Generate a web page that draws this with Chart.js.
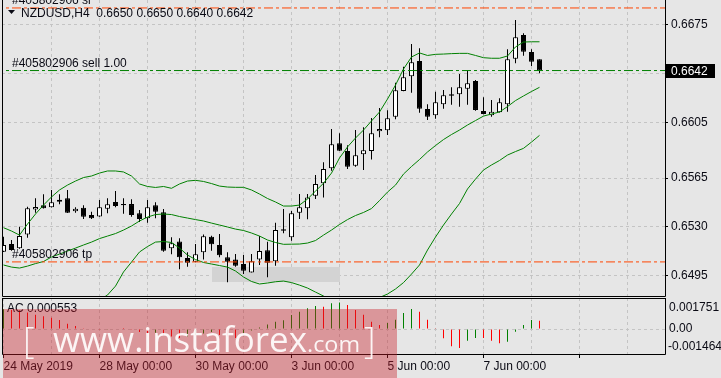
<!DOCTYPE html>
<html>
<head>
<meta charset="utf-8">
<script src="https://cdn.jsdelivr.net/npm/chart.js@4.4.0/dist/chart.umd.min.js"></script>
<style>
  html, body { margin: 0; padding: 0; background: #e6e6e6; }
  #wrap { position: relative; width: 721px; height: 378px; overflow: hidden; background: #e6e6e6; }
  canvas { position: absolute; left: 0; }
  #main { top: 0; }
  #sub { top: 296px; }
</style>
</head>
<body>
<div id="wrap">
  <canvas id="main" width="721" height="298"></canvas>
  <canvas id="sub" width="721" height="82"></canvas>
</div>
<script>
// NZDUSD H4 candles, 24 May - 7 Jun 2019
const opens = [0.65123,0.65178,0.65147,0.65247,0.65426,0.65455,0.65441,0.65495,0.65505,0.65412,
  0.65438,0.65386,0.65376,0.65431,0.65479,0.65464,0.65464,0.65398,0.65362,0.65455,
  0.65405,0.65147,0.65197,0.65078,0.65051,0.65119,0.65230,0.65171,0.65083,0.65068,
  0.65035,0.64975,0.65068,0.65133,0.65054,0.65283,0.65226,0.65402,0.65434,0.65524,
  0.65613,0.65720,0.65899,0.65844,0.65739,0.65820,0.65844,0.65985,0.65992,0.66090,
  0.66274,0.66379,0.66489,0.66145,0.66100,0.66178,0.66250,0.66250,0.66290,0.66345,
  0.66131,0.66100,0.66121,0.66178,0.66505,0.66675,0.66553,0.66500];
const highs = [0.65231,0.65207,0.65302,0.65445,0.65505,0.65534,0.65565,0.65534,0.65565,0.65441,
  0.65455,0.65409,0.65493,0.65505,0.65557,0.65505,0.65498,0.65421,0.65493,0.65477,
  0.65429,0.65226,0.65219,0.65119,0.65178,0.65247,0.65237,0.65250,0.65119,0.65106,
  0.65099,0.65106,0.65235,0.65194,0.65331,0.65429,0.65414,0.65536,0.65536,0.65672,
  0.65763,0.66002,0.65971,0.65885,0.65994,0.66014,0.66080,0.66152,0.66135,0.66333,
  0.66448,0.66610,0.66579,0.66178,0.66269,0.66281,0.66300,0.66395,0.66419,0.66352,
  0.66229,0.66209,0.66221,0.66572,0.66782,0.66687,0.66572,0.66500];
const lows = [0.65121,0.65130,0.65145,0.65223,0.65402,0.65432,0.65439,0.65462,0.65400,0.65402,
  0.65357,0.65357,0.65374,0.65398,0.65441,0.65395,0.65374,0.65336,0.65331,0.65362,
  0.65123,0.65104,0.64997,0.65015,0.65047,0.65068,0.65130,0.65083,0.64904,0.65015,
  0.64963,0.64975,0.65028,0.64940,0.65023,0.65255,0.65202,0.65357,0.65355,0.65500,
  0.65512,0.65703,0.65844,0.65715,0.65731,0.65708,0.65784,0.65942,0.65959,0.66071,
  0.66272,0.66261,0.66118,0.66066,0.66075,0.66147,0.66175,0.66161,0.66175,0.66133,
  0.66107,0.66089,0.66119,0.66125,0.66472,0.66526,0.66453,0.66400];
const closes = [0.65171,0.65135,0.65235,0.65434,0.65443,0.65434,0.65477,0.65481,0.65402,0.65431,
  0.65374,0.65362,0.65441,0.65462,0.65450,0.65455,0.65386,0.65357,0.65441,0.65409,
  0.65130,0.65183,0.65083,0.65044,0.65104,0.65233,0.65176,0.65097,0.65051,0.65023,
  0.64987,0.65054,0.65128,0.65044,0.65278,0.65273,0.65398,0.65441,0.65512,0.65608,
  0.65715,0.65892,0.65846,0.65731,0.65813,0.65849,0.65971,0.66001,0.66078,0.66279,
  0.66372,0.66479,0.66147,0.66090,0.66193,0.66243,0.66240,0.66300,0.66329,0.66138,
  0.66109,0.66125,0.66193,0.66500,0.66658,0.66555,0.66483,0.66420];

// Bollinger bands
const bbUpper = [0.65295,0.65271,0.65242,0.65321,0.65393,0.65457,0.65515,0.65565,0.65600,0.65629,
  0.65654,0.65665,0.65686,0.65701,0.65701,0.65694,0.65665,0.65608,0.65590,0.65583,
  0.65590,0.65577,0.65608,0.65629,0.65634,0.65626,0.65611,0.65593,0.65586,0.65584,
  0.65584,0.65565,0.65536,0.65504,0.65479,0.65450,0.65450,0.65457,0.65500,0.65557,
  0.65613,0.65686,0.65794,0.65873,0.65937,0.65994,0.66059,0.66123,0.66216,0.66316,
  0.66431,0.66517,0.66546,0.66528,0.66536,0.66538,0.66541,0.66543,0.66543,0.66528,
  0.66512,0.66508,0.66508,0.66524,0.66589,0.66624,0.66626,0.66626];
const bbMiddle = [0.65028,0.65013,0.65006,0.65020,0.65038,0.65053,0.65085,0.65106,0.65128,0.65149,
  0.65171,0.65192,0.65217,0.65235,0.65253,0.65278,0.65307,0.65343,0.65371,0.65389,
  0.65393,0.65389,0.65375,0.65364,0.65353,0.65343,0.65328,0.65314,0.65300,0.65285,
  0.65275,0.65257,0.65235,0.65207,0.65189,0.65176,0.65177,0.65178,0.65185,0.65203,
  0.65242,0.65278,0.65318,0.65353,0.65382,0.65404,0.65432,0.65489,0.65550,0.65600,
  0.65679,0.65733,0.65783,0.65837,0.65883,0.65926,0.65962,0.65994,0.66030,0.66062,
  0.66094,0.66109,0.66123,0.66162,0.66205,0.66238,0.66270,0.66300];
const bbLower = [0.64756,0.64748,0.64756,0.64720,0.64691,0.64662,0.64655,0.64655,0.64662,0.64677,
  0.64698,0.64734,0.64777,0.64813,0.64877,0.64978,0.65049,0.65121,0.65160,0.65192,
  0.65196,0.65189,0.65149,0.65099,0.65067,0.65046,0.65035,0.65024,0.65013,0.64985,
  0.64942,0.64910,0.64892,0.64899,0.64908,0.64913,0.64902,0.64884,0.64863,0.64834,
  0.64806,0.64777,0.64748,0.64734,0.64741,0.64756,0.64777,0.64795,0.64820,0.64856,
  0.64902,0.64963,0.65028,0.65135,0.65228,0.65314,0.65393,0.65468,0.65572,0.65643,
  0.65708,0.65744,0.65776,0.65815,0.65840,0.65863,0.65908,0.65956];

// Accelerator Oscillator
const acValues = [0.00130,0.00126,0.00124,0.00110,0.00095,0.00085,0.00075,0.00060,0.00035,0.00020,
  0.00005,-0.00003,-0.00005,-0.00002,0.00003,0.00001,-0.00005,-0.00020,-0.00030,-0.00025,
  -0.00040,-0.00050,-0.00060,-0.00050,-0.00040,-0.00030,-0.00020,-0.00040,-0.00050,-0.00060,
  -0.00030,-0.00010,0.00010,0.00030,0.000483,0.00058,0.000925,0.001144,0.001368,0.00152,
  0.001474,0.001699,0.001751,0.001586,0.001256,0.000945,0.000483,0.000264,0.000397,0.000615,
  0.001058,0.001322,0.001144,0.000615,0.00002,-0.000615,-0.001144,-0.001256,-0.000773,-0.000595,
  -0.00060,-0.000773,-0.000945,-0.00084,-0.000178,0.000264,0.000595,0.000553];
const acScaleLabels = ['0.001751', '0.00', '-0.001464'];

const priceTicks = [0.6495, 0.6530, 0.6565, 0.6605, 0.6640, 0.6675];
const priceMin = 0.64806, priceMax = 0.66925;
const acMin = -0.00165, acMax = 0.00205;
const dateLabels = ['24 May 2019', '28 May 00:00', '30 May 00:00', '3 Jun 00:00', '5 Jun 00:00', '7 Jun 00:00'];
const barsPerDay = 6;

const symbol = 'NZDUSD,H4';
const ticket = '#405802906';
const stopLoss = 0.66868, entryPrice = 0.6642, takeProfit = 0.6505;
const zone = { fromBar: 26, toBar: 42, low: 0.64908, high: 0.65015 };

// layout
const BAR_PX = 8, PLOT_W = 663, FIRST_BAR_PX = 1.5;
const xMin = -FIRST_BAR_PX / BAR_PX, xMax = xMin + PLOT_W / BAR_PX;

const FONT = '12px "Liberation Sans", Arial, sans-serif';
const TEXT = '#0a0a14';
const GRID = '#c4c4c4';
Chart.defaults.font.family = '"Liberation Sans", Arial, sans-serif';
Chart.defaults.font.size = 12;
Chart.defaults.color = TEXT;

const idx = opens.map((_, i) => i);
const dayTicks = [];
for (let k = barsPerDay; k <= xMax; k += barsPerDay) dayTicks.push({ value: k });

function flatLine(level, color) {
  return {
    type: 'line', data: [{ x: xMin - 1, y: level }, { x: xMax + 1, y: level }],
    borderColor: color, borderWidth: 1, borderDash: [9, 3, 3, 3], pointRadius: 0, order: 0
  };
}
function band(values) {
  return {
    type: 'line', data: idx.map(i => ({ x: i, y: values[i] })),
    borderColor: '#008000', borderWidth: 1, pointRadius: 0, tension: 0, order: 0
  };
}
function frame(ctx, a) {
  ctx.save();
  ctx.strokeStyle = '#000';
  ctx.lineWidth = 1;
  ctx.beginPath();
  ctx.moveTo(a.left + 0.5, a.top);
  ctx.lineTo(a.left + 0.5, a.bottom + 0.5);
  ctx.lineTo(a.right + 0.5, a.bottom + 0.5);
  ctx.lineTo(a.right + 0.5, a.top);
  ctx.stroke();
  ctx.restore();
}

const mainDecor = {
  id: 'mainDecor',
  beforeDatasetsDraw(chart) {
    const { ctx, scales: { x, y } } = chart;
    const x0 = x.getPixelForValue(zone.fromBar), x1 = x.getPixelForValue(zone.toBar);
    const y0 = y.getPixelForValue(zone.high), y1 = y.getPixelForValue(zone.low);
    ctx.save();
    ctx.fillStyle = '#d3d3d3';
    ctx.fillRect(Math.round(x0), Math.round(y0), Math.round(x1 - x0), Math.round(y1 - y0));
    ctx.restore();
  },
  afterDraw(chart) {
    const { ctx, chartArea: a, scales: { y } } = chart;
    frame(ctx, a);
    ctx.save();
    ctx.font = FONT;
    ctx.fillStyle = TEXT;
    ctx.textBaseline = 'alphabetic';
    ctx.fillText(ticket + ' sl', 12, y.getPixelForValue(stopLoss) - 4);
    ctx.fillText(ticket + ' sell 1.00', 12, y.getPixelForValue(entryPrice) - 4);
    ctx.fillText(ticket + ' tp', 12, y.getPixelForValue(takeProfit) - 4);
    const last = opens.length - 1;
    const ohlc = [opens[last], highs[last], lows[last], closes[last]].map(v => v.toFixed(4)).join(' ');
    ctx.fillText(symbol + '  ' + ohlc, 21, 17);
    ctx.beginPath();
    ctx.moveTo(8, 10); ctx.lineTo(15, 10); ctx.lineTo(11.5, 14); ctx.closePath();
    ctx.fill();
    // current price box
    const py = Math.round(y.getPixelForValue(closes[last]));
    ctx.fillStyle = '#000';
    ctx.fillRect(a.right, py - 7, 50, 14);
    ctx.fillStyle = '#fff';
    ctx.textBaseline = 'middle';
    ctx.fillText(closes[last].toFixed(4), a.right + 6, py + 0.5);
    ctx.restore();
  }
};

new Chart(document.getElementById('main'), {
  type: 'bar',
  data: {
    datasets: [
      flatLine(stopLoss, '#ff4500'),
      flatLine(entryPrice, '#008000'),
      flatLine(takeProfit, '#ff4500'),
      band(bbUpper), band(bbMiddle), band(bbLower),
      {
        data: idx.map(i => ({ x: i, y: [opens[i], closes[i]] })),
        backgroundColor: idx.map(i => closes[i] >= opens[i] ? '#ffffff' : '#000000'),
        borderColor: '#000', borderWidth: 1, borderSkipped: false,
        barThickness: 5, grouped: false, inflateAmount: 0, order: 1
      },
      {
        data: idx.map(i => ({ x: i, y: [lows[i], highs[i]] })),
        backgroundColor: '#000', borderWidth: 0,
        barThickness: 1, grouped: false, inflateAmount: 0, order: 2
      }
    ]
  },
  options: {
    responsive: false, animation: false, devicePixelRatio: 1,
    layout: { padding: { left: 2, right: 0, top: 0, bottom: 2 } },
    plugins: { legend: { display: false }, tooltip: { enabled: false } },
    scales: {
      x: {
        type: 'linear', min: xMin, max: xMax, offset: false,
        grid: { color: GRID, offset: false, drawTicks: false },
        border: { display: false, dash: [3, 3] },
        ticks: { display: false },
        afterBuildTicks: s => { s.ticks = dayTicks.slice(); },
        afterFit: s => { s.height = 0; s.paddingLeft = 0; s.paddingRight = 0; }
      },
      y: {
        position: 'right', min: priceMin, max: priceMax, beginAtZero: false,
        grid: { color: GRID, tickLength: 3, tickColor: '#000', tickBorderDash: [10, 0] },
        border: { display: false, dash: [3, 3] },
        ticks: { padding: 3, callback: v => v.toFixed(4) },
        afterBuildTicks: s => { s.ticks = priceTicks.map(v => ({ value: v })); },
        afterFit: s => { s.width = 56; s.paddingTop = 0; s.paddingBottom = 0; }
      }
    }
  },
  plugins: [mainDecor]
});

function fitText(ctx, text, x, base, width) {
  const w = ctx.measureText(text).width;
  ctx.save();
  ctx.translate(x, base);
  ctx.scale(width / w, 1);
  ctx.fillText(text, 0, 0);
  ctx.restore();
}

const subDecor = {
  id: 'subDecor',
  afterDraw(chart) {
    const { ctx, chartArea: a } = chart;
    frame(ctx, a);
    ctx.save();
    ctx.strokeStyle = '#000';
    ctx.beginPath();
    ctx.moveTo(a.left, a.top + 0.5); ctx.lineTo(a.right + 1, a.top + 0.5);
    ctx.stroke();
    ctx.font = FONT;
    ctx.fillStyle = TEXT;
    ctx.textBaseline = 'middle';
    ctx.fillText('AC ' + acValues[acValues.length - 1].toFixed(6), 7, a.top + 11);
    ctx.fillText(acScaleLabels[0], a.right + 4, a.top + 10);
    ctx.fillText(acScaleLabels[1], a.right + 4, chart.scales.y.getPixelForValue(0));
    ctx.fillText(acScaleLabels[2], a.right + 3, a.bottom - 7);
    // watermark
    ctx.fillStyle = 'rgba(200, 30, 40, 0.4)';
    ctx.fillRect(3, 13, 394, 82 - 13);
    ctx.fillStyle = 'rgba(255, 255, 255, 0.9)';
    ctx.textBaseline = 'alphabetic';
    ctx.font = '300 36px "Open Sans", sans-serif';
    ctx.fillText('[', 23, 57);
    ctx.fillText(']', 364, 57);
    ctx.font = '400 34px "Open Sans", sans-serif';
    fitText(ctx, 'www.instaforex', 53, 56, 254);
    ctx.font = '400 22px "Open Sans", sans-serif';
    fitText(ctx, '.com', 307, 56, 53);
    ctx.restore();
  }
};

new Chart(document.getElementById('sub'), {
  type: 'bar',
  data: {
    datasets: [{
      data: idx.map(i => ({ x: i, y: acValues[i] })),
      backgroundColor: idx.map(i => (i === 0 || acValues[i] >= acValues[i - 1]) ? '#008000' : '#ff0000'),
      borderWidth: 0, barThickness: 1, grouped: false, inflateAmount: 0
    }]
  },
  options: {
    responsive: false, animation: false, devicePixelRatio: 1,
    layout: { padding: { left: 2, right: 0, top: 2, bottom: 0 } },
    plugins: { legend: { display: false }, tooltip: { enabled: false } },
    scales: {
      x: {
        type: 'linear', min: xMin, max: xMax, offset: false,
        grid: {
          color: GRID, offset: false, tickLength: 4, tickBorderDash: [10, 0],
          tickColor: c => (c.tick && c.tick.value % (2 * barsPerDay) === 0) ? '#000' : 'rgba(0,0,0,0)'
        },
        border: { display: false, dash: [3, 3] },
        ticks: {
          align: 'start', autoSkip: false, maxRotation: 0, padding: 1,
          callback: v => (v % (2 * barsPerDay) === 0 ? (dateLabels[v / (2 * barsPerDay)] || '') : '')
        },
        afterBuildTicks: s => { s.ticks = [{ value: 0 }].concat(dayTicks); },
        afterFit: s => { s.height = 24; s.paddingLeft = 0; s.paddingRight = 0; }
      },
      y: {
        position: 'right', min: acMin, max: acMax, beginAtZero: false,
        grid: { color: GRID, drawTicks: false },
        border: { display: false, dash: [3, 3] },
        ticks: { display: false },
        afterBuildTicks: s => { s.ticks = [{ value: 0 }]; },
        afterFit: s => { s.width = 56; s.paddingTop = 0; s.paddingBottom = 0; }
      }
    }
  },
  plugins: [subDecor]
});
</script>
</body>
</html>
